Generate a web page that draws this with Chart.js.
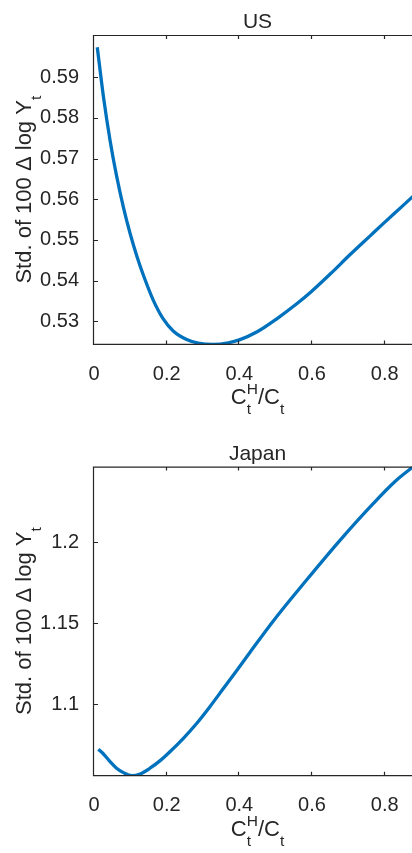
<!DOCTYPE html>
<html>
<head>
<meta charset="utf-8">
<script src="https://cdn.jsdelivr.net/npm/chart.js@4"></script>
<style>
  html, body { margin: 0; padding: 0; background: #fff; overflow: hidden; }
  #wrap { position: relative; width: 412px; height: 853px; overflow: hidden; }
  canvas { position: absolute; left: 0; }
</style>
</head>
<body>
<div id="wrap">
  <canvas id="chart-us" width="421" height="426" style="top:0px"></canvas>
  <canvas id="chart-jp" width="421" height="422" style="top:431px"></canvas>
</div>
<script>
// ---- data ----
const xTicks = [0, 0.2, 0.4, 0.6, 0.8];

const usX = [0.009, 0.026, 0.044, 0.062, 0.081, 0.099, 0.118, 0.136, 0.163, 0.191, 0.218, 0.255,
             0.287, 0.328, 0.37, 0.4, 0.449, 0.503, 0.558, 0.597, 0.65, 0.705, 0.76, 0.796, 0.851, 0.88];
const usY = [0.5974, 0.5852, 0.5746, 0.5658, 0.5580, 0.5517, 0.5460, 0.5413, 0.5352, 0.5305, 0.5276, 0.5255,
             0.5246, 0.5243, 0.5247, 0.5254, 0.5274, 0.5306, 0.5343, 0.5372, 0.5416, 0.5464, 0.5510, 0.5540, 0.5585, 0.5609];
const usTicks = [0.53, 0.54, 0.55, 0.56, 0.57, 0.58, 0.59];

const jpX = [0.012, 0.026, 0.044, 0.062, 0.081, 0.104, 0.127, 0.154, 0.182, 0.209, 0.246, 0.283,
             0.319, 0.356, 0.393, 0.429, 0.494, 0.585, 0.677, 0.769, 0.83, 0.88];
const jpY = [1.0722, 1.0693, 1.0646, 1.0605, 1.0578, 1.0559, 1.0570, 1.0605, 1.0652, 1.0707, 1.0790, 1.0883,
             1.0985, 1.1097, 1.1209, 1.1320, 1.1516, 1.1767, 1.2012, 1.2240, 1.2378, 1.2469];
const jpTicks = [1.1, 1.15, 1.2];

const FONT = '"Liberation Sans", Arial, Helvetica, sans-serif';
const INK = '#262626';
const BLUE = '#0072BD';

// desenha uma sequência de pedaços {t, size, dy} centrada na origem atual
function drawPieces(ctx, pieces) {
  const widths = pieces.map((p) => {
    ctx.font = p.size + 'px ' + FONT;
    return p.stack ? 0 : ctx.measureText(p.t).width;
  });
  // pedaços empilhados (sobrescrito + subscrito) dividem o mesmo x
  pieces.forEach((p, i) => {
    if (p.stack) {
      ctx.font = p.size + 'px ' + FONT;
      const w = ctx.measureText(p.t).width;
      widths[i + 1] = Math.max(w, widths[i + 1]);
    }
  });
  const total = widths.reduce((s, w) => s + w, 0);
  let x = -total / 2;
  pieces.forEach((p, i) => {
    ctx.font = p.size + 'px ' + FONT;
    ctx.fillText(p.t, x, p.dy);
    x += widths[i];
  });
}

const framePlugin = {
  id: 'frame',
  afterDraw(chart, args, opts) {
    const { ctx, chartArea: a, scales: { x, y } } = chart;
    ctx.save();
    ctx.strokeStyle = INK;
    ctx.lineWidth = 1.2;
    ctx.beginPath();
    ctx.moveTo(a.right, a.top + 0.5);
    ctx.lineTo(a.left - 0.5, a.top + 0.5);
    ctx.lineTo(a.left - 0.5, a.bottom);
    ctx.lineTo(a.right, a.bottom);
    // ticks para dentro
    x.ticks.forEach((t) => {
      const px = Math.round(x.getPixelForValue(t.value)) - 0.5;
      ctx.moveTo(px, a.bottom); ctx.lineTo(px, a.bottom - 4);
      ctx.moveTo(px, a.top); ctx.lineTo(px, a.top + 4);
    });
    y.ticks.forEach((t) => {
      const py = Math.round(y.getPixelForValue(t.value)) + 0.5;
      ctx.moveTo(a.left, py); ctx.lineTo(a.left + 4, py);
    });
    ctx.stroke();

    ctx.fillStyle = INK;
    ctx.textBaseline = 'alphabetic';
    ctx.textAlign = 'left';
    const cx = (a.left + a.right) / 2;

    // título
    ctx.save();
    ctx.translate(cx, a.top - 6.7);
    drawPieces(ctx, [{ t: opts.title, size: 21, dy: 0 }]);
    ctx.restore();

    // rótulo x  C_t^H / C_t
    ctx.save();
    ctx.translate(cx, a.bottom + 60);
    drawPieces(ctx, [
      { t: 'C', size: 22, dy: 0 },
      { t: 'H', size: 15.5, dy: -10, stack: true },
      { t: 't', size: 15.5, dy: 10 },
      { t: '/C', size: 22, dy: 0 },
      { t: 't', size: 15.5, dy: 10 },
    ]);
    ctx.restore();

    // rótulo y
    ctx.save();
    ctx.translate(31, (a.top + a.bottom) / 2);
    ctx.rotate(-Math.PI / 2);
    drawPieces(ctx, [
      { t: 'Std. of 100 \u0394 log Y', size: 22, dy: 0 },
      { t: 't', size: 15.5, dy: 10 },
    ]);
    ctx.restore();

    ctx.restore();
  },
};

function criarGrafico(id, titulo, xs, ys, yMin, yMax, yTicks, topo, base) {
  const canvas = document.getElementById(id);
  const altura = canvas.height;
  return new Chart(canvas, {
    type: 'line',
    data: {
      datasets: [{
        data: xs.map((v, i) => ({ x: v, y: ys[i] })),
        borderColor: BLUE,
        borderWidth: 3.3,
        pointRadius: 0,
        cubicInterpolationMode: 'monotone',
        fill: false,
      }],
    },
    options: {
      responsive: false,
      animation: false,
      devicePixelRatio: 1,
      layout: { padding: { top: topo, left: 0, right: 0, bottom: 0 } },
      plugins: {
        legend: { display: false },
        tooltip: { enabled: false },
        frame: { title: titulo },
      },
      scales: {
        x: {
          type: 'linear',
          min: 0,
          max: 0.9,
          grid: { display: false },
          border: { display: false },
          afterBuildTicks: (s) => { s.ticks = xTicks.map((v) => ({ value: v })); },
          afterFit: (s) => { s.height = altura - base; s.paddingLeft = 0; s.paddingRight = 0; },
          ticks: {
            color: INK,
            font: { family: FONT, size: 20 },
            padding: 10,
            maxRotation: 0,
            autoSkip: false,
            callback: (v) => String(v),
          },
        },
        y: {
          type: 'linear',
          min: yMin,
          max: yMax,
          grid: { display: false },
          border: { display: false },
          afterBuildTicks: (s) => { s.ticks = yTicks.map((v) => ({ value: v })); },
          afterFit: (s) => { s.width = 94; s.paddingTop = 0; s.paddingBottom = 0; },
          ticks: {
            color: INK,
            font: { family: FONT, size: 20 },
            padding: 7,
            autoSkip: false,
            callback: (v) => String(v),
          },
        },
      },
    },
    plugins: [framePlugin],
  });
}

criarGrafico('chart-us', 'US', usX, usY, 0.5243, 0.6004, usTicks, 35, 344.4);
criarGrafico('chart-jp', 'Japan', jpX, jpY, 1.0559, 1.2467, jpTicks, 35.6, 344.7);
</script>
</body>
</html>
